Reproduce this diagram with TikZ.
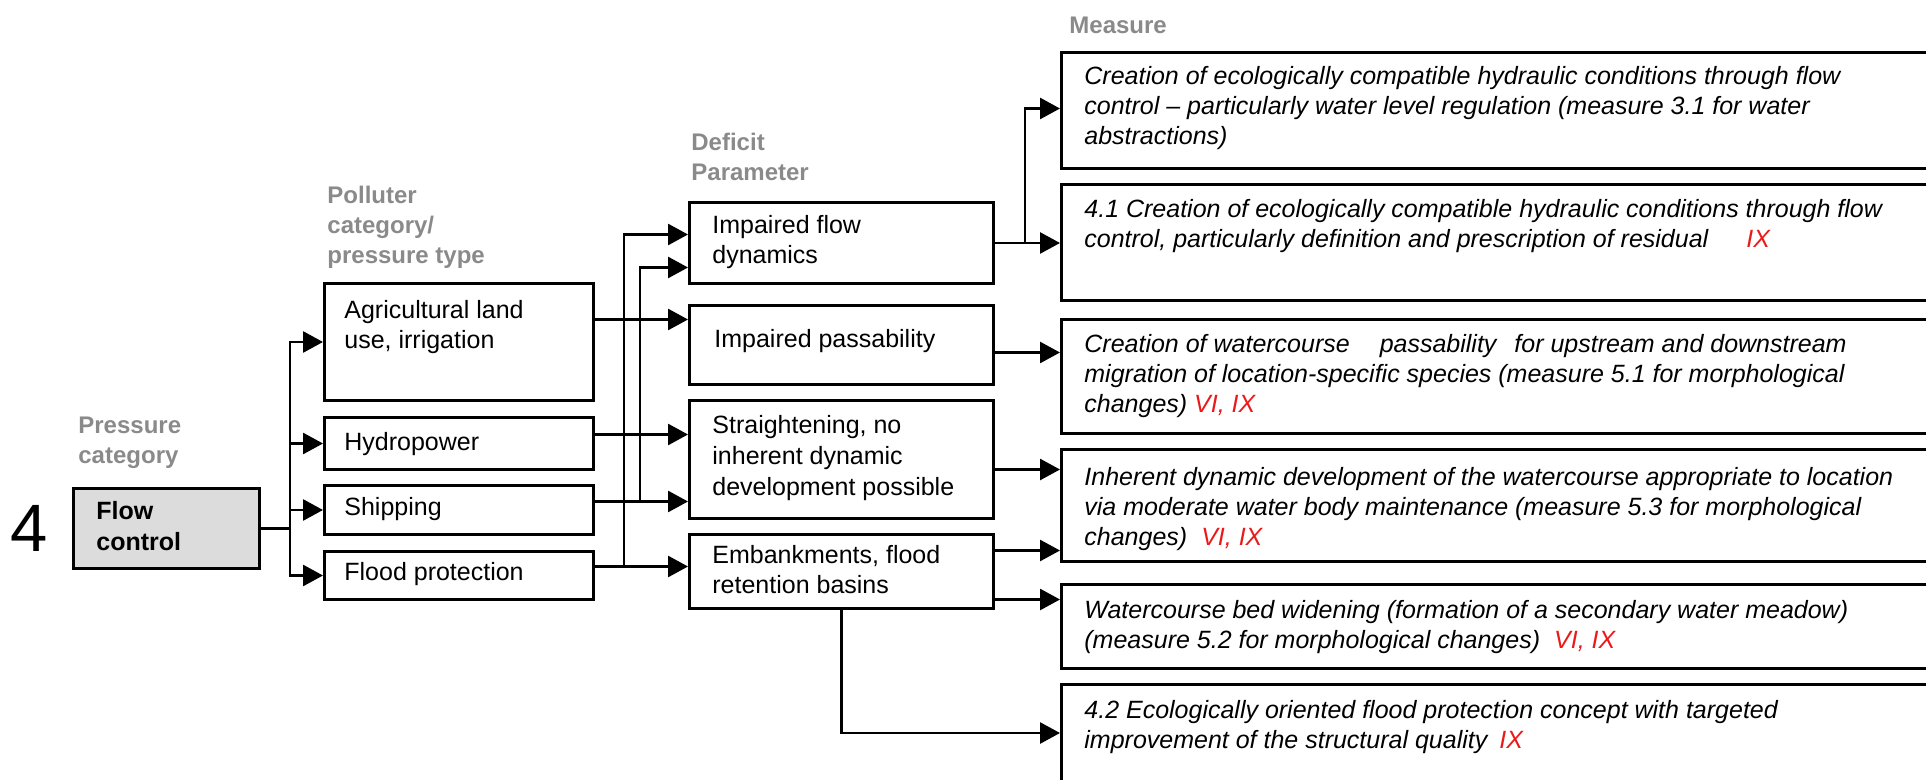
\documentclass[tikz,border=0pt]{standalone}
\usepackage{fontspec}
\setmainfont{Liberation Sans}
\usetikzlibrary{arrows.meta,calc}
\newcommand{\mystrut}{\rule{0pt}{10pt}}
\definecolor{lblgray}{RGB}{138,138,138}
\definecolor{ixred}{RGB}{235,25,25}
\definecolor{fcfill}{RGB}{220,220,220}
\begin{document}
\begin{tikzpicture}[x=0.5pt,y=-0.5pt,
  box/.style={draw, line width=1.5pt, rectangle, inner sep=0pt, anchor=north west},
  txt/.style={anchor=north west, inner sep=0pt, align=left, font=\fontsize{12.5}{15}\selectfont},
  mtxt/.style={anchor=north west, inner sep=0pt, align=left, font=\fontsize{12.5}{15}\selectfont\itshape},
  lbl/.style={anchor=north west, inner sep=0pt, align=left, text=lblgray, font=\fontsize{12}{15}\selectfont\bfseries},
  arr/.style={line width=1.4pt, -{Triangle[length=10pt,width=10.5pt]}},
  ln/.style={line width=1.4pt}
]
\useasboundingbox (0,0) rectangle (1926,780);

% labels
\node[anchor=base west, inner sep=0pt, font=\fontsize{33.5}{33.5}\selectfont] (four) at (10,551) {4};
\node[lbl] (lpc) at (78,413) {\mystrut Pressure\\category};
\node[lbl] (lpo) at (327,183) {\mystrut Polluter\\category/\\pressure type};
\node[lbl] (ldp) at (691,130) {\mystrut Deficit\\Parameter};
\node[lbl] (lme) at (1069,13) {\mystrut Measure};

% column 1
\node[box, fill=fcfill, minimum width=93pt, minimum height=40pt] (fc) at (72,487) {};
\node[txt, font=\fontsize{12.5}{15.5}\selectfont\bfseries] (tfc) at (96,499) {\mystrut Flow\\control};

% column 2
\node[box, minimum width=134.5pt, minimum height=58.5pt] (agr) at (323,282) {};
\node[box, minimum width=134.5pt, minimum height=26pt] (hyd) at (323,416) {};
\node[box, minimum width=134.5pt, minimum height=24.5pt] (ship) at (323,484) {};
\node[box, minimum width=134.5pt, minimum height=24pt] (flood) at (323,550) {};
\node[txt] (tagr) at (344,298) {\mystrut Agricultural land\\use, irrigation};
\node[txt] (thyd) at (344,430) {\mystrut Hydropower};
\node[txt] (tship) at (344,495) {\mystrut Shipping};
\node[txt] (tflood) at (344,560) {\mystrut Flood protection};

% column 3
\node[box, minimum width=152pt, minimum height=40.5pt] (flowb) at (688,201) {};
\node[box, minimum width=152pt, minimum height=39.5pt] (pass) at (688,304) {};
\node[box, minimum width=152pt, minimum height=59pt] (str) at (688,399) {};
\node[box, minimum width=152pt, minimum height=37pt] (emb) at (688,533) {};
\node[txt] (tflowb) at (712,213) {\mystrut Impaired flow\\dynamics};
\node[txt] (tpass) at (714,327) {\mystrut Impaired passability};
\node[txt, font=\fontsize{12.5}{15.5}\selectfont] (tstr) at (712,413) {\mystrut Straightening, no\\inherent dynamic\\development possible};
\node[txt] (temb) at (712,543) {\mystrut Embankments, flood\\retention basins};

% column 4 (measures)
\node[box, minimum width=450pt, minimum height=58pt] (m1) at (1060,51) {};
\node[box, minimum width=450pt, minimum height=58pt] (m2) at (1060,183) {};
\node[box, minimum width=450pt, minimum height=57pt] (m3) at (1060,318) {};
\node[box, minimum width=450pt, minimum height=56pt] (m4) at (1060,448) {};
\node[box, minimum width=450pt, minimum height=42pt] (m5) at (1060,583) {};
\node[box, minimum width=450pt, minimum height=65pt] (m6) at (1060,683) {};

\node[mtxt] (tm1) at (1084,64) {\mystrut Creation of ecologically compatible hydraulic conditions through flow\\control -- particularly water level regulation (measure 3.1 for water\\abstractions)};
\node[mtxt] (tm2) at (1084,197) {\mystrut 4.1 Creation of ecologically compatible hydraulic conditions through flow\\control, particularly definition and prescription of residual\hspace{19pt}\textcolor{ixred}{IX}};
\node[mtxt] (tm3) at (1084,332) {\mystrut Creation of watercourse\hspace{15pt}passability\hspace{9pt}for upstream and downstream\\migration of location-specific species (measure 5.1 for morphological\\changes) \textcolor{ixred}{VI, IX}};
\node[mtxt] (tm4) at (1084,465) {\mystrut Inherent dynamic development of the watercourse appropriate to location\\via moderate water body maintenance (measure 5.3 for morphological\\changes)\hspace{7pt}\textcolor{ixred}{VI, IX}};
\node[mtxt] (tm5) at (1084,598) {\mystrut Watercourse bed widening (formation of a secondary water meadow)\\(measure 5.2 for morphological changes)\hspace{7pt}\textcolor{ixred}{VI, IX}};
\node[mtxt] (tm6) at (1084,698) {\mystrut 4.2 Ecologically oriented flood protection concept with targeted\\improvement of the structural quality\hspace{6pt}\textcolor{ixred}{IX}};

% junction x positions
\coordinate (jx1) at (290,0);
\coordinate (jx2) at (624,0);
\coordinate (jx3) at (640,0);
\coordinate (jx4) at (1025,0);

% column 1 -> column 2
\draw[ln] (fc.east) -- (fc.east -| jx1);
\draw[arr] (fc.east -| jx1) |- (agr.west);
\draw[arr] (fc.east -| jx1) |- (hyd.west);
\draw[arr] (fc.east -| jx1) |- (ship.west);
\draw[arr] (fc.east -| jx1) |- (flood.west);

% column 2 -> column 3
\coordinate (a1) at ($(agr.east)+(0,-22.5)$);
\coordinate (a2) at ($(hyd.east)+(0,-9)$);
\coordinate (a3) at ($(ship.east)+(0,-8.5)$);
\coordinate (a4) at ($(flood.east)+(0,-9)$);
\coordinate (fi1) at ($(flowb.west)+(0,-8.5)$);
\coordinate (fi2) at ($(flowb.west)+(0,24.5)$);
\draw[arr] (a1) -- (a1 -| pass.west);
\draw[arr] (a2) -- (a2 -| str.west);
\draw[arr] (a3) -- (a3 -| str.west);
\draw[arr] (a4) -- (a4 -| emb.west);
\draw[arr] (a3 -| jx3) |- (fi2);
\draw[arr] (a4 -| jx2) |- (fi1);

% column 3 -> measures
\coordinate (p1) at ($(pass.east)+(0,7.5)$);
\coordinate (s1) at ($(str.east)+(0,10)$);
\coordinate (e1) at ($(emb.east)+(0,-21)$);
\coordinate (e2) at ($(emb.east)+(0,28)$);
\coordinate (m6in) at ($(m6.north west)+(0,50)$);
\draw[arr] (flowb.east) -- (flowb.east -| m2.west);
\draw[arr] (flowb.east -| jx4) |- ($(m1.west)+(0,-2)$);
\draw[arr] (p1) -- (p1 -| m3.west);
\draw[arr] (s1) -- (s1 -| m4.west);
\draw[arr] (e1) -- (e1 -| m4.west);
\draw[arr] (e2) -- (e2 -| m5.west);
\draw[arr] (emb.south) |- (m6in);
\end{tikzpicture}
\end{document}
